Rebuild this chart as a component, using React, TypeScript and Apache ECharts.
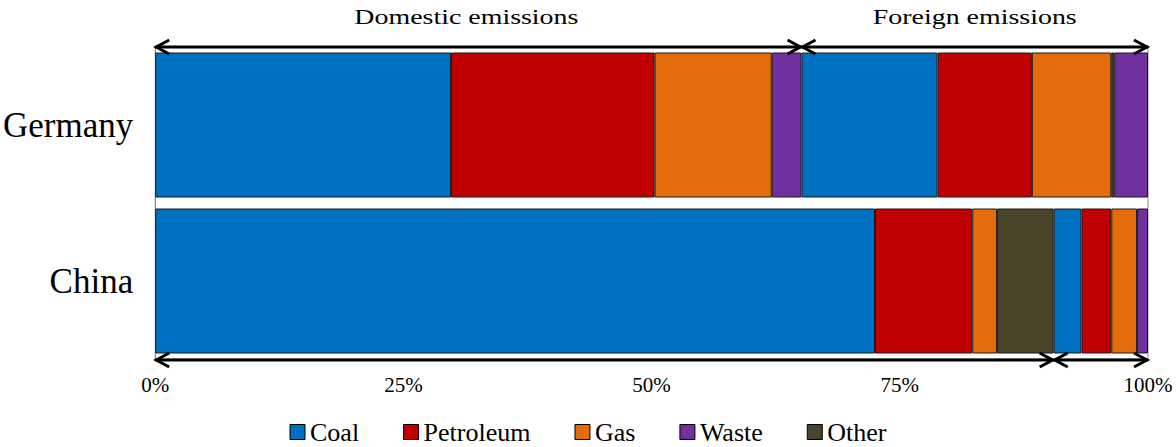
import React, { useEffect, useRef } from "react";
import * as echarts from "echarts";

const categories = ["Germany", "China"];
const legendNames = ["Coal", "Petroleum", "Gas", "Waste", "Other"];

const domesticCoal = [29.8, 72.5];
const domesticPetroleum = [20.5, 9.8];
const domesticGas = [11.8, 2.5];
const domesticOther = [0, 5.7];
const domesticWaste = [3.0, 0];

const foreignCoal = [13.7, 2.8];
const foreignPetroleum = [9.5, 3.0];
const foreignGas = [8.0, 2.6];
const foreignOther = [0.3, 0];
const foreignWaste = [3.4, 1.1];

const xTicks = [0, 25, 50, 75, 100];
const groupTitles = ["Domestic emissions", "Foreign emissions"];

const colors: Record<string, string> = {
  Coal: "#0070C0",
  Petroleum: "#C00000",
  Gas: "#E46C0A",
  Waste: "#7030A0",
  Other: "#4A452A",
};

const FONT = "'Liberation Serif', 'Times New Roman', serif";

export default function App() {
  const ref = useRef<HTMLDivElement>(null);

  useEffect(() => {
    if (!ref.current) return;
    const chart = echarts.init(ref.current, null, { renderer: "svg" });

    const mk = (name: string, data: number[]) => ({
      name,
      type: "bar",
      stack: "total",
      barWidth: 145,
      data: data.map((v) => (v === 0 ? "-" : v)),
      itemStyle: { color: colors[name], borderColor: "#1a1a1a", borderWidth: 1 },
      emphasis: { disabled: true },
    });

    const series = [
      mk("Coal", domesticCoal),
      mk("Petroleum", domesticPetroleum),
      mk("Gas", domesticGas),
      mk("Other", domesticOther),
      mk("Waste", domesticWaste),
      mk("Coal", foreignCoal),
      mk("Petroleum", foreignPetroleum),
      mk("Gas", foreignGas),
      mk("Other", foreignOther),
      mk("Waste", foreignWaste),
    ];

    const gridTop = 47;
    const gridHeight = 312;

    chart.setOption({
      animation: false,
      grid: {
        left: 155,
        right: 28,
        top: gridTop,
        height: gridHeight,
        show: true,
        borderColor: "#8c8c8c",
        borderWidth: 1,
      },
      legend: {
        data: legendNames,
        top: 419,
        left: "center",
        padding: 0,
        icon: "rect",
        itemWidth: 15,
        itemHeight: 15,
        itemGap: 44,
        textStyle: { fontFamily: FONT, fontSize: 26, lineHeight: 24, color: "#000" },
        itemStyle: { borderColor: "#000", borderWidth: 1 },
      },
      xAxis: {
        type: "value",
        min: xTicks[0],
        max: xTicks[xTicks.length - 1],
        interval: xTicks[1] - xTicks[0],
        axisLine: { show: true, lineStyle: { color: "#8c8c8c" } },
        axisTick: { show: false },
        splitLine: { show: false },
        axisLabel: {
          formatter: "{value}%",
          fontFamily: FONT,
          fontSize: 21,
          color: "#000",
          margin: 15,
        },
      },
      yAxis: {
        type: "category",
        data: categories,
        inverse: true,
        axisLine: { show: true, lineStyle: { color: "#8c8c8c" } },
        axisTick: { show: false },
        axisLabel: {
          fontFamily: FONT,
          fontSize: 35,
          color: "#000",
          margin: 22,
        },
      },
      series,
    });

    const sum = (arrs: number[][], i: number) => arrs.reduce((s, a) => s + a[i], 0);
    const domAll = [domesticCoal, domesticPetroleum, domesticGas, domesticOther, domesticWaste];
    const forAll = [foreignCoal, foreignPetroleum, foreignGas, foreignOther, foreignWaste];

    const px = (v: number) => chart.convertToPixel({ xAxisIndex: 0 }, v) as number;
    const x0 = px(0);
    const topSplit = px(sum(domAll, 0));
    const bottomSplit = px(sum(domAll, 1));
    const xEnd = px(sum(domAll, 0) + sum(forAll, 0));
    const yTop = gridTop;
    const yBottom = gridTop + gridHeight + 1;

    const stroke = { stroke: "#000", lineWidth: 3, fill: null };
    const head = 14;
    const hh = 7;
    const arrow = (a: number, b: number, y: number) => [
      { type: "polyline", shape: { points: [[a, y], [b, y]] }, style: stroke, z: 100 },
      {
        type: "polyline",
        shape: { points: [[a + head, y - hh], [a + 1, y], [a + head, y + hh]] },
        style: stroke,
        z: 100,
      },
      {
        type: "polyline",
        shape: { points: [[b - head, y - hh], [b - 1, y], [b - head, y + hh]] },
        style: stroke,
        z: 100,
      },
    ];

    const title = (text: string, cx: number) => ({
      type: "text",
      x: cx,
      y: 17,
      scaleX: 1.33,
      style: {
        text,
        fontFamily: FONT,
        fontSize: 21,
        fill: "#000",
        align: "center",
        verticalAlign: "middle",
      },
    });

    chart.setOption({
      graphic: [
        ...arrow(x0, topSplit, yTop),
        ...arrow(topSplit, xEnd, yTop),
        ...arrow(x0, bottomSplit, yBottom),
        ...arrow(bottomSplit, xEnd, yBottom),
        title(groupTitles[0], (x0 + topSplit) / 2 - 12),
        title(groupTitles[1], (topSplit + xEnd) / 2),
      ],
    });

    return () => chart.dispose();
  }, []);

  return (
    <div
      ref={ref}
      style={{ position: "absolute", left: 0, top: 0, width: 1176, height: 447 }}
    />
  );
}
